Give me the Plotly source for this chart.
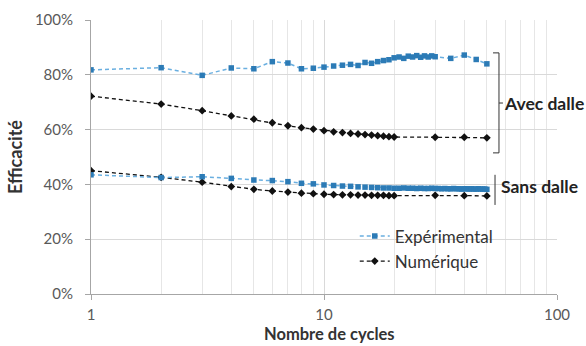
import plotly.graph_objects as go

# Cycle numbers for each series
cycles_exp_avec = list(range(1, 31)) + [35, 40, 45, 50]
cycles_num = list(range(1, 21)) + [30, 40, 50]
cycles_exp_sans = list(range(1, 51))

# Efficiency (%) - with slab ("Avec dalle")
exp_avec = [81.8, 82.6, 79.8, 82.5, 82.2, 84.8, 84.3, 82.2, 82.4, 82.8,
            83.2, 83.5, 83.8, 83.4, 84.5, 84.2, 84.8, 85.2, 85.5, 86.2,
            86.5, 86.0, 86.8, 86.5, 87.0, 86.4, 86.9, 86.5, 86.9, 86.6,
            86.0, 87.2, 85.6, 84.0]
num_avec = [72.2, 69.3, 66.9, 65.0, 63.8, 62.5, 61.4, 60.7, 60.2, 59.6,
            59.2, 58.9, 58.6, 58.4, 58.2, 58.0, 57.8, 57.6, 57.4, 57.3,
            57.2, 57.2, 57.0]

# Efficiency (%) - without slab ("Sans dalle")
exp_sans = [43.5, 42.5, 42.8, 42.2, 41.6, 41.4, 41.0, 40.4, 40.2, 39.8,
            39.6, 39.4, 39.3, 39.1, 39.0, 38.9, 38.8, 38.7, 38.7, 38.6,
            38.6, 38.7, 38.6, 38.6, 38.5, 38.6, 38.5, 38.5, 38.6, 38.5,
            38.5, 38.4, 38.5, 38.4, 38.4, 38.5, 38.4, 38.4, 38.3, 38.4,
            38.4, 38.3, 38.4, 38.3, 38.3, 38.4, 38.3, 38.3, 38.3, 38.2]
num_sans = [45.0, 42.6, 40.8, 39.2, 38.2, 37.6, 37.2, 36.8, 36.6, 36.4,
            36.3, 36.2, 36.2, 36.1, 36.1, 36.0, 36.0, 36.0, 35.9, 35.9,
            36.0, 35.9, 35.8]

x_tickvals = [1, 10, 100]
x_ticktext = ["1", "10", "100"]
y_tickvals = [0, 20, 40, 60, 80, 100]
y_ticktext = ["0%", "20%", "40%", "60%", "80%", "100%"]
minor_vals = [2, 3, 4, 5, 6, 7, 8, 9, 20, 30, 40, 50, 60, 70, 80, 90]

EXP_MARKER = "#2C7BB6"
EXP_LINE = "#6AAFE0"
NUM_COLOR = "#111111"
FONT = "Lato, Carlito, Calibri, sans-serif"

fig = go.Figure()

exp_style = dict(mode="lines+markers",
                 line=dict(color=EXP_LINE, width=1.5, dash="4px,3px"),
                 marker=dict(symbol="square", size=5.5, color=EXP_MARKER))
num_style = dict(mode="lines+markers",
                 line=dict(color=NUM_COLOR, width=1.3, dash="4px,3px"),
                 marker=dict(symbol="diamond", size=6, color=NUM_COLOR))

fig.add_trace(go.Scatter(x=cycles_exp_avec, y=exp_avec, name="Expérimental",
                         legendgroup="exp", **exp_style))
fig.add_trace(go.Scatter(x=cycles_num, y=num_avec, name="Numérique",
                         legendgroup="num", **num_style))
fig.add_trace(go.Scatter(x=cycles_num, y=num_sans, name="Numérique",
                         legendgroup="num", showlegend=False, **num_style))
fig.add_trace(go.Scatter(x=cycles_exp_sans, y=exp_sans, name="Expérimental",
                         legendgroup="exp", showlegend=False, **exp_style))

# Brackets grouping the two configurations
bk = dict(type="line", xref="paper", yref="y",
          line=dict(color="#333333", width=1))
shapes = [
    dict(x0=0.8755, x1=0.8755, y0=51.5, y1=88.0, **bk),
    dict(x0=0.8627, x1=0.8755, y0=88.0, y1=88.0, **bk),
    dict(x0=0.8627, x1=0.8755, y0=51.5, y1=51.5, **bk),
    dict(x0=0.8755, x1=0.8840, y0=69.7, y1=69.7, **bk),
    dict(x0=0.8670, x1=0.8670, y0=32.5, y1=43.5, **bk),
]
annotations = [
    dict(text="<b>Avec dalle</b>", xref="paper", yref="y", x=0.882, y=69.7,
         xanchor="left", yanchor="middle", showarrow=False,
         font=dict(family=FONT, size=17.5, color="#222222")),
    dict(text="<b>Sans dalle</b>", xref="paper", yref="y", x=0.876, y=39.2,
         xanchor="left", yanchor="middle", showarrow=False,
         font=dict(family=FONT, size=17.5, color="#222222")),
    # Axis titles
    dict(text="<b>Nombre de cycles</b>", xref="paper", yref="paper",
         x=0.512, y=-0.188, xanchor="center", yanchor="bottom",
         showarrow=False, font=dict(family=FONT, size=16.5, color="#333333")),
    dict(text="<b>Efficacité</b>", xref="paper", yref="paper",
         x=-0.163, y=0.5, xanchor="center", yanchor="middle",
         textangle=-90, showarrow=False,
         font=dict(family=FONT, size=18, color="#333333")),
]

fig.update_layout(
    width=586, height=346,
    margin=dict(l=91, r=29, t=20, b=52),
    paper_bgcolor="white", plot_bgcolor="white",
    font=dict(family=FONT, size=15, color="#595959"),
    shapes=shapes, annotations=annotations,
    legend=dict(x=0.566, y=0.276, xanchor="left", yanchor="top",
                bgcolor="rgba(255,255,255,0)", itemwidth=30,
                font=dict(family=FONT, size=17, color="#333333"),
                tracegroupgap=0),
    xaxis=dict(type="log", range=[0, 2], tickvals=x_tickvals,
               ticktext=x_ticktext, showgrid=True, gridcolor="#D9D9D9",
               showline=True, linecolor="#A6A6A6", ticks="outside",
               ticklen=5, tickcolor="#A6A6A6", zeroline=False,
               ticklabelstandoff=2, automargin=False,
               minor=dict(tickvals=minor_vals, showgrid=True,
                          gridcolor="#E6E6E6", ticks="")),
    yaxis=dict(range=[0, 100], tickvals=y_tickvals, ticktext=y_ticktext,
               showgrid=True, gridcolor="#D9D9D9", showline=True,
               linecolor="#A6A6A6", ticks="outside", ticklen=5,
               tickcolor="#A6A6A6", zeroline=False,
               ticklabelstandoff=9, automargin=False),
)

fig.write_html("out.html")
